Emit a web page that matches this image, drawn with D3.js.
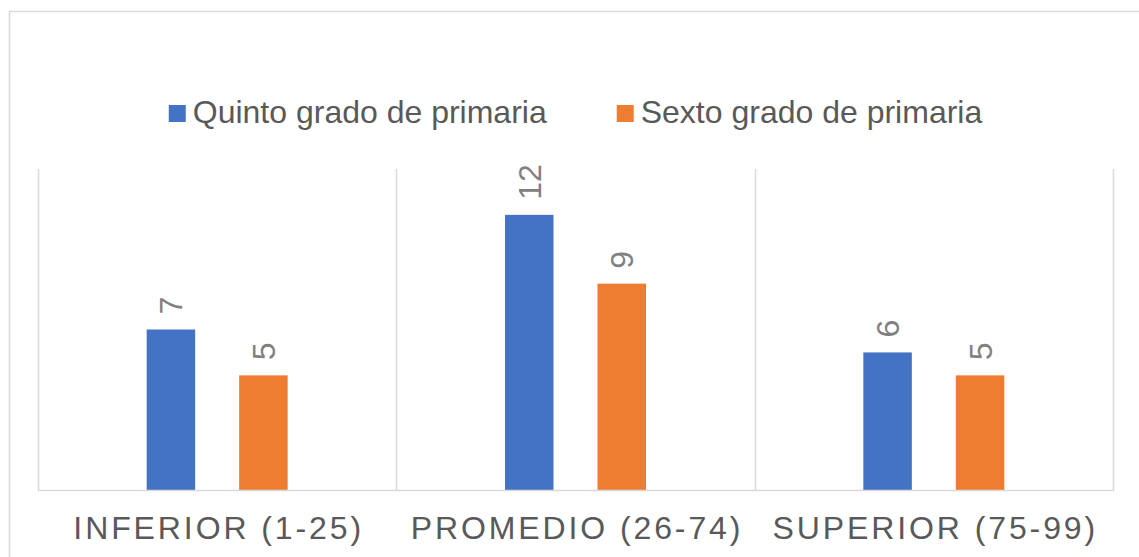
<!DOCTYPE html>
<html>
<head>
<meta charset="utf-8">
<script src="https://cdn.jsdelivr.net/npm/d3@7"></script>
<style>
  body { margin: 0; background: #fff; }
  svg { display: block; font-family: "Liberation Sans", Arial, sans-serif; }
</style>
</head>
<body>
<div id="chart"></div>
<script>
// Grouped bars — Quinto vs Sexto grado, by percentile level.

const categories = ['INFERIOR (1-25)', 'PROMEDIO (26-74)', 'SUPERIOR (75-99)'];
const seriesNames = ['Quinto grado de primaria', 'Sexto grado de primaria'];
const quinto = [7, 12, 6];
const sexto  = [5, 9, 5];
const COLORS = ['#4472C4', '#ED7D31'];

const W = 1139, H = 557;
const plot = { left: 38, right: 1113, top: 169, bottom: 490 };

const svg = d3.select('#chart').append('svg').attr('width', W).attr('height', H);

// chart frame (runs off the right/bottom edge like the original)
svg.append('rect')
  .attr('x', 9.5).attr('y', 11.5).attr('width', W + 20).attr('height', H + 20)
  .attr('fill', '#fff').attr('stroke', '#d9d9d9').attr('stroke-width', 1.5);

const x0 = d3.scaleBand().domain(categories).range([plot.left, plot.right]).padding(0);
const x1 = d3.scaleBand().domain(seriesNames).range([0, x0.bandwidth()])
  .paddingInner(0.4757).paddingOuter(1.175);
const y = d3.scaleLinear().domain([0, 14]).range([plot.bottom, plot.top]);

// category separators
const seps = categories.map(c => x0(c)).concat([plot.right]);
svg.append('g').selectAll('line').data(seps).enter().append('line')
  .attr('x1', d => Math.round(d) + 0.5).attr('x2', d => Math.round(d) + 0.5)
  .attr('y1', y(14)).attr('y2', y(0))
  .attr('stroke', '#d9d9d9').attr('stroke-width', 1.5);

const rows = categories.map((c, i) => ({ cat: c, values: [quinto[i], sexto[i]] }));

const groups = svg.append('g').selectAll('g').data(rows).enter().append('g')
  .attr('transform', d => `translate(${x0(d.cat)},0)`);

groups.selectAll('rect').data(d => d.values.map((v, j) => ({ s: seriesNames[j], v, j })))
  .enter().append('rect')
  .attr('x', d => x1(d.s)).attr('width', x1.bandwidth())
  .attr('y', d => y(d.v)).attr('height', d => y(0) - y(d.v))
  .attr('fill', d => COLORS[d.j]);

// rotated value labels
const LFS = 32;
groups.selectAll('text').data(d => d.values.map((v, j) => ({ s: seriesNames[j], v, j })))
  .enter().append('text')
  .attr('transform', d => `translate(${x1(d.s) + x1.bandwidth() / 2 + LFS * 0.36},${y(d.v) - 15}) rotate(-90)`)
  .attr('fill', '#808080').style('font-size', LFS + 'px')
  .text(d => d.v);

// baseline
svg.append('line')
  .attr('x1', plot.left).attr('x2', plot.right + 1)
  .attr('y1', y(0) + 0.5).attr('y2', y(0) + 0.5)
  .attr('stroke', '#d9d9d9').attr('stroke-width', 1.5);

// category axis labels
svg.append('g').selectAll('text').data(categories).enter().append('text')
  .attr('x', d => x0(d) + x0.bandwidth() / 2 + 1.5).attr('y', 539)
  .attr('text-anchor', 'middle')
  .attr('fill', '#595959').style('font-size', '32px').style('letter-spacing', '2.9px')
  .text(d => d);

// legend
const legend = svg.append('g');
const items = legend.selectAll('g').data(seriesNames).enter().append('g');
items.append('rect').attr('width', 17).attr('height', 17).attr('y', 105)
  .attr('fill', (d, i) => COLORS[i]);
items.append('text').attr('x', 24).attr('y', 123)
  .attr('fill', '#595959').style('font-size', '32px')
  .text(d => d);
let off = 0;
const offs = [];
items.each(function () {
  offs.push(off);
  off += 24 + d3.select(this).select('text').node().getComputedTextLength() + 70;
});
const total = off - 70;
const start = (plot.left + plot.right) / 2 - total / 2;
items.attr('transform', (d, i) => `translate(${start + offs[i]},0)`);
</script>
</body>
</html>
